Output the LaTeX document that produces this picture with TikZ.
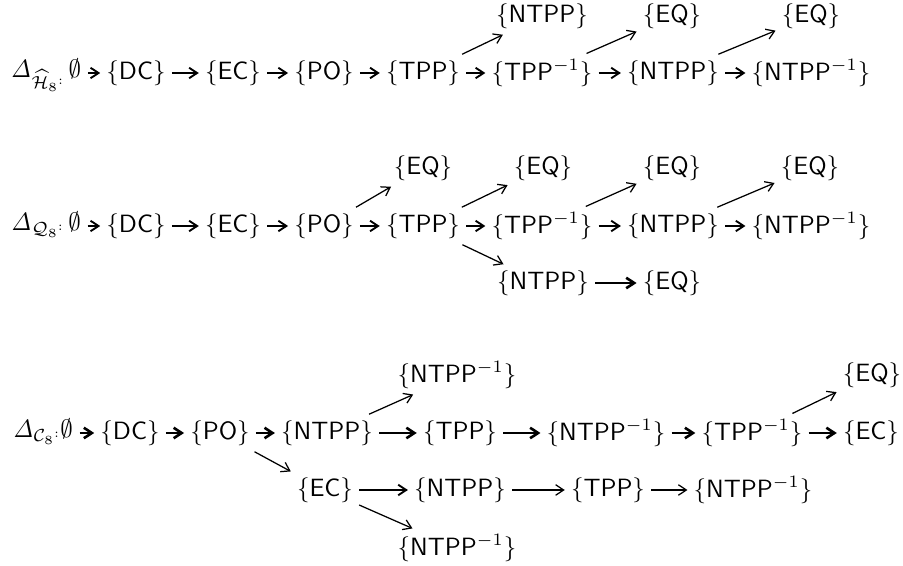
\documentclass[tikz,border=0pt]{standalone}
\usetikzlibrary{arrows.meta}
\newcommand\rset[1]{\ensuremath{\{\textsf{#1}\}}}
\newcommand\inv{$^{-1}$}
\newcommand\smcolon{\raisebox{1.5pt}{$\scriptscriptstyle:$}}
\tikzset{
  x=0.4pt, y=-0.4pt,
  rel/.style={inner sep=2.5pt, outer sep=0pt, font=\normalsize},
  lbl/.style={inner sep=2.5pt, anchor=base, font=\normalsize},
  arr/.style={-{Straight Barb[length=3.2pt,width=4.2pt]}, line width=0.75pt},
  arrthin/.style={arr, line width=0.5pt},
  arrthick/.style={arr, line width=1.05pt},
}
\begin{document}
\begin{tikzpicture}
\useasboundingbox (0,0) rectangle (903,566);

% ---- first chain
\node[lbl] (L1) at (46,78) {$\mathit{\Delta}_{\widehat{\mathcal{H}}_8\smcolon}\,\emptyset$};
\node[rel] (a1) at (136,73) {\rset{DC}};
\node[rel] (b1) at (233,73) {\rset{EC}};
\node[rel] (c1) at (324,73) {\rset{PO}};
\node[rel] (d1) at (423,73) {\rset{TPP}};
\node[rel] (e1) at (542,73) {\rset{TPP\inv}};
\node[rel] (f1) at (673,73) {\rset{NTPP}};
\node[rel] (g1) at (811,73) {\rset{NTPP\inv}};
\node[rel] (t1) at (542,16) {\rset{NTPP}};
\node[rel] (t2) at (672,16) {\rset{EQ}};
\node[rel] (t3) at (811,16) {\rset{EQ}};
\draw[arr] (L1.east |- a1) -- (a1);
\draw[arr] (a1) -- (b1);
\draw[arr] (b1) -- (c1);
\draw[arr] (c1) -- (d1);
\draw[arr] (d1) -- (e1);
\draw[arr] (e1) -- (f1);
\draw[arr] (f1) -- (g1);
\draw[arrthin] (d1) -- (t1);
\draw[arrthin] (e1) -- (t2);
\draw[arrthin] (f1) -- (t3);

% ---- second chain
\node[lbl] (L2) at (46,231) {$\mathit{\Delta}_{\mathcal{Q}_8\smcolon}\,\emptyset$};
\node[rel] (a2) at (136,226) {\rset{DC}};
\node[rel] (b2) at (233,226) {\rset{EC}};
\node[rel] (c2) at (324,226) {\rset{PO}};
\node[rel] (d2) at (423,226) {\rset{TPP}};
\node[rel] (e2) at (542,226) {\rset{TPP\inv}};
\node[rel] (f2) at (673,226) {\rset{NTPP}};
\node[rel] (g2) at (811,226) {\rset{NTPP\inv}};
\node[rel] (u1) at (423,168) {\rset{EQ}};
\node[rel] (u2) at (543,168) {\rset{EQ}};
\node[rel] (u3) at (672,168) {\rset{EQ}};
\node[rel] (u4) at (810,168) {\rset{EQ}};
\node[rel] (v1) at (543,283) {\rset{NTPP}};
\node[rel] (v2) at (672,283) {\rset{EQ}};
\draw[arr] (L2.east |- a2) -- (a2);
\draw[arr] (a2) -- (b2);
\draw[arr] (b2) -- (c2);
\draw[arr] (c2) -- (d2);
\draw[arr] (d2) -- (e2);
\draw[arr] (e2) -- (f2);
\draw[arr] (f2) -- (g2);
\draw[arrthin] (c2) -- (u1);
\draw[arrthin] (d2) -- (u2);
\draw[arrthin] (e2) -- (u3);
\draw[arrthin] (f2) -- (u4);
\draw[arrthin] (d2) -- (v1);
\draw[arrthick] (v1) -- (v2);

% ---- third chain
\node[lbl] (L3) at (43,438) {$\mathit{\Delta}_{\mathcal{C}_8\smcolon}\emptyset$};
\node[rel] (a3) at (130,433) {\rset{DC}};
\node[rel] (b3) at (220,433) {\rset{PO}};
\node[rel] (c3) at (327,433) {\rset{NTPP}};
\node[rel] (d3) at (460,433) {\rset{TPP}};
\node[rel] (e3) at (606,433) {\rset{NTPP\inv}};
\node[rel] (f3) at (752,433) {\rset{TPP\inv}};
\node[rel] (g3) at (871,433) {\rset{EC}};
\node[rel] (w1) at (457,375) {\rset{NTPP\inv}};
\node[rel] (w2) at (872,375) {\rset{EQ}};
\node[rel] (x1) at (325,490) {\rset{EC}};
\node[rel] (x2) at (460,490) {\rset{NTPP}};
\node[rel] (x3) at (608,490) {\rset{TPP}};
\node[rel] (x4) at (753,490) {\rset{NTPP\inv}};
\node[rel] (y1) at (457,548) {\rset{NTPP\inv}};
\draw[arrthick] (L3.east |- a3) -- (a3);
\draw[arrthick] (a3) -- (b3);
\draw[arrthick] (b3) -- (c3);
\draw[arrthick] (c3) -- (d3);
\draw[arrthick] (d3) -- (e3);
\draw[arrthick] (e3) -- (f3);
\draw[arrthick] (f3) -- (g3);
\draw[arrthin] (c3) -- (w1);
\draw[arrthin] (f3) -- (w2);
\draw[arrthin] (b3) -- (x1);
\draw[arr] (x1) -- (x2);
\draw[arrthin] (x2) -- (x3);
\draw[arrthin] (x3) -- (x4);
\draw[arrthin] (x1) -- (y1);
\end{tikzpicture}
\end{document}
